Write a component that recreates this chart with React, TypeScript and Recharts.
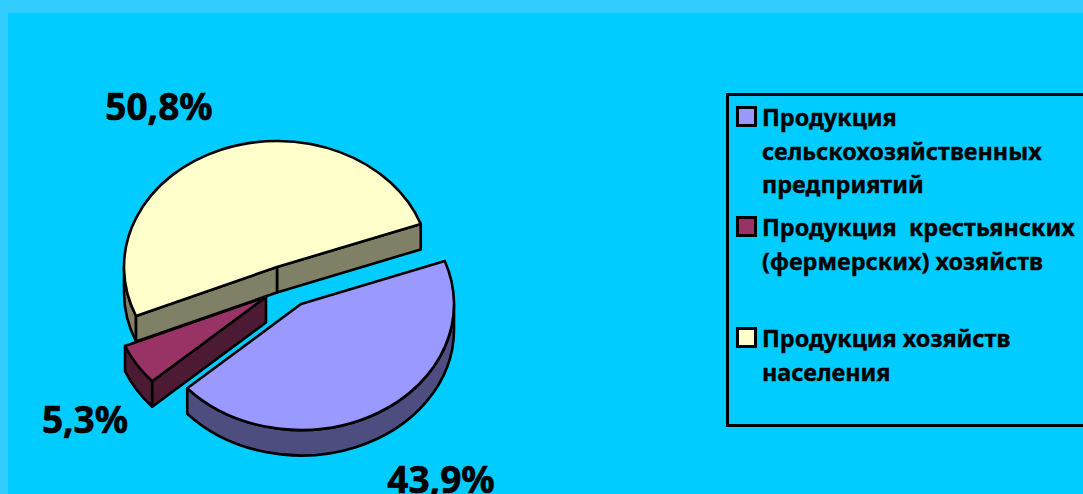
import React from "react";
import { PieChart, Pie, Legend } from "recharts";

const names = [
  "Продукция сельскохозяйственных предприятий",
  "Продукция  крестьянских (фермерских) хозяйств",
  "Продукция хозяйств населения",
];
const values = [43.9, 5.3, 50.8];
const valueLabels = ["43,9%", "5,3%", "50,8%"];
const nameLines = [
  ["Продукция", "сельскохозяйственных", "предприятий"],
  ["Продукция  крестьянских", "(фермерских) хозяйств"],
  ["Продукция хозяйств", "населения"],
];
const topColors = ["#9999FF", "#993366", "#FFFFCC"];
const sideColors = ["#4D4D80", "#4D1A33", "#808066"];

// display-only styling of the exploded, tilted pie
const W = 1083;
const H = 494;
const CX = 281;
const CY = 275;
const R = 153;
const TILT = 126 / 153;
const DEPTH = 25.5;
const explode = [
  [20, 29],
  [-15, 22],
  [-4, -8],
];
const labelDelta = [
  [160, 218],
  [-196, 158],
  [-122, -155],
];
const legendTops = [13, 123, 234];
const FONT = "'Noto Sans', sans-serif";

const table = names.map((name, i) => ({ name, value: values[i], fill: topColors[i] }));

const rad = (d: number) => (d * Math.PI) / 180;

function Slice3D(props: any) {
  const i = names.indexOf(props.name ?? props.payload?.name);
  const r = props.outerRadius;
  const ry = r * TILT;
  const cx = props.cx + explode[i][0];
  const cy = props.cy + explode[i][1];
  const lo = Math.min(props.startAngle, props.endAngle);
  const hi = Math.max(props.startAngle, props.endAngle);
  const px = (t: number) => cx + r * Math.cos(rad(t));
  const py = (t: number) => cy - ry * Math.sin(rad(t));
  const stroke = { stroke: "#000", strokeWidth: 2.6, strokeLinejoin: "round" as const };

  const walls: React.ReactNode[] = [];
  for (const k of [-1, 0, 1]) {
    const a = Math.max(lo, 180 + 360 * k);
    const b = Math.min(hi, 360 + 360 * k);
    if (b > a) {
      const large = b - a > 180 ? 1 : 0;
      walls.push(
        <path
          key={"rim" + k}
          fill={sideColors[i]}
          {...stroke}
          d={`M${px(a)},${py(a)} A${r},${ry} 0 ${large} 0 ${px(b)},${py(b)} L${px(b)},${py(b) + DEPTH} A${r},${ry} 0 ${large} 1 ${px(a)},${py(a) + DEPTH} Z`}
        />
      );
    }
  }
  const face = (t: number, key: string) => (
    <path
      key={key}
      fill={sideColors[i]}
      {...stroke}
      d={`M${cx},${cy} L${px(t)},${py(t)} L${px(t)},${py(t) + DEPTH} L${cx},${cy + DEPTH} Z`}
    />
  );
  if (Math.cos(rad(lo)) > 0) walls.push(face(lo, "lo"));
  if (Math.cos(rad(hi)) < 0) walls.push(face(hi, "hi"));
  const large = hi - lo > 180 ? 1 : 0;
  return (
    <g>
      {walls}
      <path
        fill={topColors[i]}
        {...stroke}
        d={`M${cx},${cy} L${px(lo)},${py(lo)} A${r},${ry} 0 ${large} 0 ${px(hi)},${py(hi)} Z`}
      />
    </g>
  );
}

function renderLabel(props: any) {
  const i = names.indexOf(props.name ?? props.payload?.name);
  return (
    <text
      x={props.cx + labelDelta[i][0]}
      y={props.cy + labelDelta[i][1]}
      textAnchor="middle"
      fontFamily={FONT}
      fontWeight={700}
      fontSize={37}
      fill="#000"
      stroke="#000"
      strokeWidth={0.6}
    >
      {valueLabels[i]}
    </text>
  );
}

function LegendBox() {
  return (
    <div
      style={{
        position: "relative",
        width: 400,
        height: 334,
        boxSizing: "border-box",
        border: "3px solid #000",
        fontFamily: FONT,
        fontWeight: 700,
        fontSize: 23.4,
        color: "#000",
        WebkitTextStroke: "0.4px #000",
      }}
    >
      {names.map((n, i) => (
        <div key={n} style={{ position: "absolute", left: 7, top: legendTops[i] - 3 }}>
          <div
            style={{
              position: "absolute",
              left: 0,
              top: 0,
              width: 21,
              height: 21,
              boxSizing: "border-box",
              background: topColors[i],
              border: "3px solid #000",
            }}
          />
          {nameLines[i].map((line, j) => (
            <div
              key={j}
              style={{
                position: "absolute",
                left: 26,
                top: -5 + j * 33.5,
                lineHeight: "33px",
                whiteSpace: "pre",
              }}
            >
              {line}
            </div>
          ))}
        </div>
      ))}
    </div>
  );
}

export default function App() {
  return (
    <div
      style={{
        position: "absolute",
        left: 0,
        top: 0,
        width: W,
        height: H,
        overflow: "hidden",
        background: "#33CCFF",
      }}
    >
      <div
        style={{ position: "absolute", left: 8, top: 13, right: 0, bottom: 0, background: "#00CCFF" }}
      />
      <PieChart width={W} height={H} margin={{ top: 0, right: 0, bottom: 0, left: 0 }}>
        <Pie
          data={table}
          dataKey="value"
          nameKey="name"
          cx={CX}
          cy={CY}
          outerRadius={R}
          startAngle={20}
          endAngle={-340}
          stroke="#000"
          shape={Slice3D}
          label={renderLabel}
          labelLine={false}
          isAnimationActive={false}
        />
        <Legend
          content={<LegendBox />}
          wrapperStyle={{ position: "absolute", left: 726, top: 93, width: 400, height: 334, margin: 0 }}
        />
      </PieChart>
    </div>
  );
}
